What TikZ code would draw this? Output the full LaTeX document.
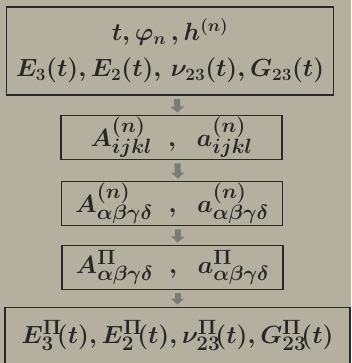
\documentclass[tikz,border=0pt]{standalone}
\usepackage{xcolor}
\usepackage{tikz}
\usetikzlibrary{positioning,arrows.meta,calc}

\definecolor{paper}{RGB}{180,176,160}
\definecolor{ink}{RGB}{40,40,38}
\definecolor{arrowgray}{RGB}{125,123,118}

\begin{document}
\begin{tikzpicture}[
  x=1pt, y=1pt,
  bigbox/.style={draw=ink, line width=1.8pt, fill=paper, text=ink, align=center, inner sep=0pt},
  midbox/.style={draw=ink, line width=1.8pt, fill=paper, text=ink, minimum width=221pt, minimum height=44pt, inner sep=0pt, font=\boldmath\fontsize{31}{34}\selectfont},
  flow/.style={line width=6pt, draw=arrowgray, -{Triangle[width=13pt,length=6pt]}, shorten <=3pt, shorten >=2pt}
]
\useasboundingbox[fill=paper] (0,0) rectangle (351,363);

\node[bigbox, minimum width=327pt, minimum height=88pt, font=\boldmath\fontsize{27}{36}\selectfont] (input) at (170, 312)
  {$t,\varphi_n\,,h^{(n)}$\\ $E_3(t),E_2(t),\,\nu_{23}(t),G_{23}(t)$};
\node[midbox] (micro) at (171.5, 225.5) {$A^{(n)}_{ijkl}\;\;,\;\;a^{(n)}_{ijkl}$};
\node[midbox] (layer) at (172, 159.5) {$A^{(n)}_{\alpha\beta\gamma\delta}\;\;,\;\;a^{(n)}_{\alpha\beta\gamma\delta}$};
\node[midbox] (pack)  at (172.5, 95.5) {$A^{\Pi}_{\alpha\beta\gamma\delta}\;\;,\;\;a^{\Pi}_{\alpha\beta\gamma\delta}$};
\node[bigbox, minimum width=345pt, minimum height=56pt, font=\boldmath\fontsize{28}{32}\selectfont] (output) at (177.5, 27.5)
  {$E_3^{\Pi}\!(t),E_2^{\Pi}\!(t),\nu_{23}^{\Pi}\!(t),G_{23}^{\Pi}\!(t)$};

\draw[flow] ([xshift=7pt]input.south) -- ([xshift=6pt]micro.north);
\draw[flow] ([xshift=6pt]micro.south) -- ([xshift=6pt]layer.north);
\draw[flow] ([xshift=6pt]layer.south) -- ([xshift=5pt]pack.north);
\draw[flow] ([xshift=5pt]pack.south) -- ([xshift=5pt]pack.south |- output.north);

\end{tikzpicture}
\end{document}
